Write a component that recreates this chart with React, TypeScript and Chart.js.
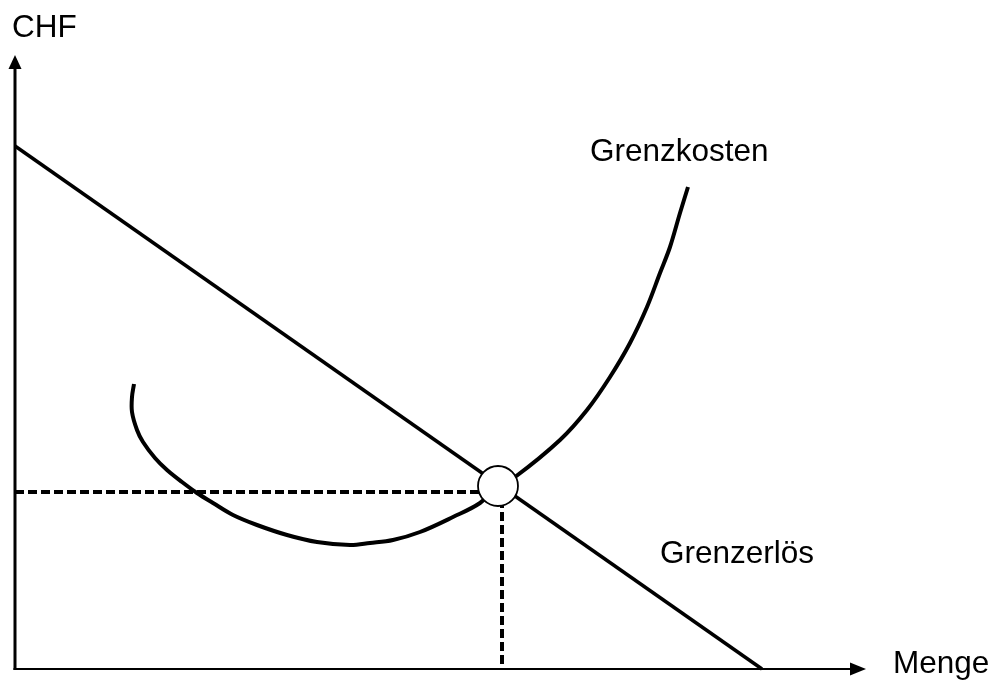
import React, { useEffect, useRef } from "react";
import { Chart, registerables } from "chart.js";

Chart.register(...registerables);

// Sketch values (quantity "Menge" on x, CHF on y)
const grenzkostenX = [119, 117, 117, 122, 128, 140, 152, 167, 182, 198, 218, 242, 272, 302, 335, 355, 378, 405, 438, 465, 483, 500, 545, 572, 595, 615, 632, 645, 655, 665, 673];
const grenzkostenY = [285, 272, 257, 239, 227, 211, 199, 187, 176, 166, 154, 144, 134, 127, 124, 126, 129, 137, 152, 166, 183, 192, 229, 259, 292, 326, 362, 396, 422, 456, 482];
const grenzerloesX = [0, 747];
const grenzerloesY = [523, 0];
const optimumX = 483;
const optimumY = 183;
const priceLevel = 177;
const quantityLevel = 487;
const axisMaxX = 851;
const axisMaxY = 614;

const labels = [
  { text: "CHF", x: -3, y: 632 },
  { text: "Grenzkosten", x: 575, y: 508 },
  { text: "Grenzerlös", x: 645, y: 106 },
  { text: "Menge", x: 878, y: -4 },
];

const FONT = '31.5px "Liberation Sans", Arial, sans-serif';

const zip = (xs: number[], ys: number[]) => xs.map((x, i) => ({ x, y: ys[i] }));

const sketchPlugin = {
  id: "sketch",
  afterDraw(chart: any) {
    const { ctx, scales } = chart;
    const sx = scales.x;
    const sy = scales.y;
    const x0 = sx.getPixelForValue(0);
    const y0 = sy.getPixelForValue(0);
    const xTip = sx.getPixelForValue(axisMaxX);
    const yTip = sy.getPixelForValue(axisMaxY);
    ctx.save();
    ctx.strokeStyle = "#000";
    ctx.fillStyle = "#000";
    // y axis
    ctx.lineWidth = 3;
    ctx.beginPath();
    ctx.moveTo(x0, y0 + 1);
    ctx.lineTo(x0, yTip + 10);
    ctx.stroke();
    ctx.beginPath();
    ctx.moveTo(x0, yTip);
    ctx.lineTo(x0 - 6.5, yTip + 14);
    ctx.lineTo(x0 + 6.5, yTip + 14);
    ctx.closePath();
    ctx.fill();
    // x axis
    ctx.lineWidth = 2.2;
    ctx.beginPath();
    ctx.moveTo(x0 - 1.5, y0);
    ctx.lineTo(xTip - 10, y0);
    ctx.stroke();
    ctx.beginPath();
    ctx.moveTo(xTip, y0);
    ctx.lineTo(xTip - 16, y0 - 6.5);
    ctx.lineTo(xTip - 16, y0 + 6.5);
    ctx.closePath();
    ctx.fill();
    // labels
    ctx.font = FONT;
    ctx.textAlign = "left";
    ctx.textBaseline = "alphabetic";
    for (const l of labels) {
      ctx.fillText(l.text, sx.getPixelForValue(l.x), sy.getPixelForValue(l.y));
    }
    ctx.restore();
  },
};

export default function App() {
  const ref = useRef<HTMLCanvasElement | null>(null);
  useEffect(() => {
    if (!ref.current) return;
    const chart = new Chart(ref.current, {
      type: "scatter",
      data: {
        datasets: [
          {
            label: "Optimum",
            data: [{ x: optimumX, y: optimumY }],
            pointRadius: 20,
            pointBackgroundColor: "#fff",
            pointBorderColor: "#000",
            pointBorderWidth: 1.8,
            showLine: false,
            clip: false,
          } as any,
          {
            label: "Grenzkosten",
            data: zip(grenzkostenX, grenzkostenY),
            showLine: true,
            borderColor: "#000",
            borderWidth: 4,
            tension: 0.35,
            pointRadius: 0,
            fill: false,
            clip: false,
          },
          {
            label: "Grenzerlös",
            data: zip(grenzerloesX, grenzerloesY),
            showLine: true,
            borderColor: "#000",
            borderWidth: 3.5,
            pointRadius: 0,
            fill: false,
            clip: false,
          },
          {
            label: "Preis",
            data: [{ x: 0, y: priceLevel }, { x: optimumX, y: priceLevel }],
            showLine: true,
            borderColor: "#000",
            borderWidth: 4,
            borderDash: [9, 4],
            pointRadius: 0,
            fill: false,
            clip: false,
          },
          {
            label: "Menge",
            data: [{ x: quantityLevel, y: optimumY }, { x: quantityLevel, y: 0 }],
            showLine: true,
            borderColor: "#000",
            borderWidth: 4,
            borderDash: [9, 4],
            pointRadius: 0,
            fill: false,
            clip: false,
          },
        ],
      },
      options: {
        animation: false,
        responsive: true,
        maintainAspectRatio: false,
        layout: { padding: 0, autoPadding: false },
        plugins: { legend: { display: false }, tooltip: { enabled: false } },
        events: [],
        scales: {
          x: { type: "linear", min: -15, max: 983, display: false },
          y: { type: "linear", min: -19, max: 669, display: false },
        },
      },
      plugins: [sketchPlugin],
    });
    return () => chart.destroy();
  }, []);
  return (
    <div style={{ position: "absolute", left: 0, top: 0, width: 998, height: 688, background: "#fff" }}>
      <canvas ref={ref} />
    </div>
  );
}
